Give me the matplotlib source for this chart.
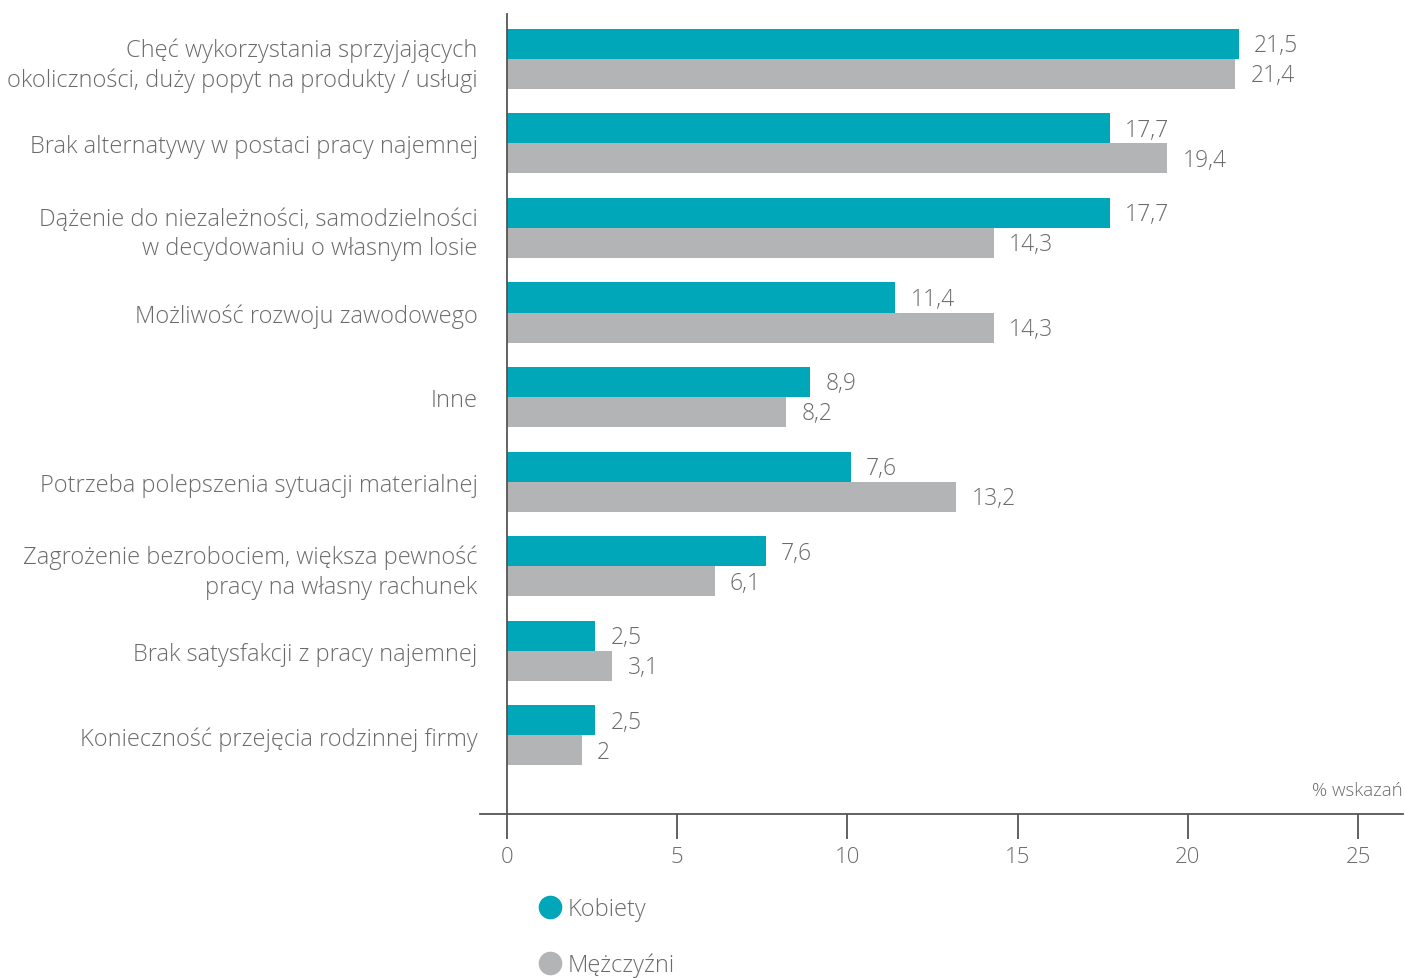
import matplotlib.pyplot as plt
from matplotlib.lines import Line2D

plt.rcParams['font.family'] = ['Open Sans', 'DejaVu Sans']

# Data
categories = [
    'Chęć wykorzystania sprzyjających\nokoliczności, duży popyt na produkty / usługi',
    'Brak alternatywy w postaci pracy najemnej',
    'Dążenie do niezależności, samodzielności\nw decydowaniu o własnym losie',
    'Możliwość rozwoju zawodowego',
    'Inne',
    'Potrzeba polepszenia sytuacji materialnej',
    'Zagrożenie bezrobociem, większa pewność\npracy na własny rachunek',
    'Brak satysfakcji z pracy najemnej',
    'Konieczność przejęcia rodzinnej firmy',
]
kobiety = [21.5, 17.7, 17.7, 11.4, 8.9, 10.1, 7.6, 2.6, 2.6]
mezczyzni = [21.4, 19.4, 14.3, 14.3, 8.2, 13.2, 6.1, 3.1, 2.2]
kobiety_labels = ['21,5', '17,7', '17,7', '11,4', '8,9', '7,6', '7,6', '2,5', '2,5']
mezczyzni_labels = ['21,4', '19,4', '14,3', '14,3', '8,2', '13,2', '6,1', '3,1', '2']
xticks = [0, 5, 10, 15, 20, 25]

teal = '#00A7B9'
grey = '#B2B4B5'
txt = '#6b6b6b'

fig = plt.figure(figsize=(14.05, 9.79), dpi=100)
ax = fig.add_axes([480 / 1405, 1 - 815 / 979, 923 / 1405, 800 / 979])

h = 0.355
y = list(range(len(categories)))
ax.barh([i - h / 2 for i in y], kobiety, height=h, color=teal)
ax.barh([i + h / 2 for i in y], mezczyzni, height=h, color=grey)

for i in y:
    ax.annotate(kobiety_labels[i], (kobiety[i], i - h / 2), xytext=(11, -1),
                textcoords='offset points', va='center', ha='left',
                fontsize=16.5, color=txt, fontweight='light')
    ax.annotate(mezczyzni_labels[i], (mezczyzni[i], i + h / 2), xytext=(11, -1),
                textcoords='offset points', va='center', ha='left',
                fontsize=16.5, color=txt, fontweight='light')

ax.set_xlim(-0.79, 26.32)
ax.set_ylim(8.93, -0.53)

for s in ['top', 'right']:
    ax.spines[s].set_visible(False)
ax.spines['left'].set_position(('data', 0))
ax.spines['left'].set_color('#555555')
ax.spines['bottom'].set_color('#555555')
ax.spines['left'].set_linewidth(1.3)
ax.spines['bottom'].set_linewidth(1.3)

ax.set_yticks(y)
ax.set_yticklabels(categories, fontsize=17, color=txt, fontweight='light', linespacing=1.3)
ax.tick_params(axis='y', length=0, pad=21)

ax.set_xticks(xticks)
ax.set_xticklabels([str(t) for t in xticks], fontsize=16, color=txt, fontweight='light')
ax.tick_params(axis='x', length=18, width=1.3, color='#555555', pad=5, direction='out')

ax.text(1.0, 0.03, '% wskazań', transform=ax.transAxes, ha='right', va='center',
        fontsize=13.5, color=txt, fontweight='light')

handles = [Line2D([], [], marker='o', linestyle='', markersize=16, color=teal),
           Line2D([], [], marker='o', linestyle='', markersize=16, color=grey)]
leg = fig.legend(handles, ['Kobiety', 'Mężczyźni'], loc='center left',
                 bbox_to_anchor=(522 / 1405, 1 - 938 / 979), frameon=False,
                 labelspacing=1.35, handletextpad=0.05, handlelength=1.4,
                 borderpad=0, prop={'size': 17, 'weight': 'light'})
for t in leg.get_texts():
    t.set_color(txt)

fig.savefig('out.png', dpi=100)
